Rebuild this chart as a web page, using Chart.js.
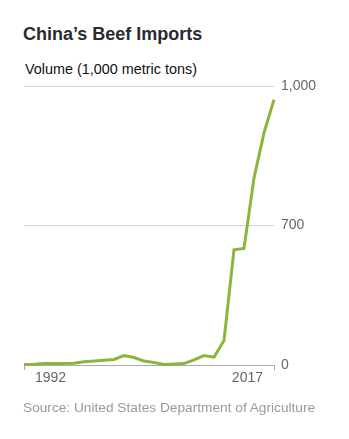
<!DOCTYPE html>
<html>
<head>
<meta charset="utf-8">
<script src="https://cdn.jsdelivr.net/npm/chart.js@4"></script>
<style>
  body { margin: 0; width: 349px; height: 439px; background: #fff; position: relative; overflow: hidden; font-family: "Liberation Sans", Arial, sans-serif; }
  #beef-chart { position: absolute; left: 0; top: 0; }
  .title { position: absolute; left: 23px; top: 25px; font-size: 18px; line-height: 18px; font-weight: bold; color: #2a2a33; }
  .subtitle { position: absolute; left: 25px; top: 62px; font-size: 14.4px; line-height: 14px; color: #111; }
  .source { position: absolute; left: 23px; top: 401px; font-size: 13.7px; line-height: 14px; color: #9a9a9a; }
</style>
</head>
<body>
<div class="title">China’s Beef Imports</div>
<div class="subtitle">Volume (1,000 metric tons)</div>
<canvas id="beef-chart" width="349" height="439"></canvas>
<div class="source">Source: United States Department of Agriculture</div>
<script>
// years on the x axis
const years = [1992, 1993, 1994, 1995, 1996, 1997, 1998, 1999, 2000, 2001, 2002, 2003, 2004,
  2005, 2006, 2007, 2008, 2009, 2010, 2011, 2012, 2013, 2014, 2015, 2016, 2017];
// imports, thousand metric tons
const imports = [2, 3, 5, 5, 5, 6, 12, 14, 17, 20, 34, 27, 14,
  9, 2, 4, 5, 18, 34, 28, 88, 413, 418, 670, 832, 951];

// axis ticks
const xTicks = [1992, 2017];
const xTickLabels = ['1992', '2017'];
const yTicks = [0, 500, 1000];
const yTickLabels = ['0', '700', '1,000'];

const tickFont = { family: '"Liberation Sans", Arial, sans-serif', size: 14 };

// x labels sit just inside the end ticks
const xLabelPlugin = {
  id: 'xLabels',
  afterDraw(chart) {
    const ctx = chart.ctx;
    const xScale = chart.scales.x;
    ctx.save();
    ctx.font = '14px "Liberation Sans", Arial, sans-serif';
    ctx.fillStyle = '#666';
    ctx.textBaseline = 'alphabetic';
    xTicks.forEach((year, i) => {
      const px = xScale.getPixelForValue(year);
      if (i === 0) {
        ctx.textAlign = 'left';
        ctx.fillText(xTickLabels[i], px + 11, 382);
      } else {
        ctx.textAlign = 'right';
        ctx.fillText(xTickLabels[i], px - 11, 382);
      }
    });
    ctx.restore();
  }
};

let lineChart = new Chart(document.getElementById('beef-chart'), {
  type: 'line',
  data: {
    labels: years,
    datasets: [{
      label: 'Beef imports',
      data: years.map((year, i) => ({ x: year, y: imports[i] })),
      borderColor: '#8cb53c',
      borderWidth: 3,
      pointRadius: 0,
      tension: 0,
      fill: false,
      clip: false
    }]
  },
  options: {
    responsive: false,
    animation: false,
    layout: { padding: { left: 24, top: 86, right: 15, bottom: 44 } },
    plugins: { legend: { display: false }, tooltip: { enabled: false } },
    scales: {
      x: {
        type: 'linear',
        min: 1992,
        max: 2017,
        afterBuildTicks: (scale) => { scale.ticks = xTicks.map(v => ({ value: v })); },
        afterFit: (scale) => { scale.height = 30; },
        ticks: { display: false },
        grid: { display: true, drawOnChartArea: false, drawTicks: true, tickLength: 5, color: '#aaa' },
        border: { display: true, color: '#aaa' }
      },
      y: {
        position: 'right',
        min: 0,
        max: 1000,
        afterBuildTicks: (scale) => { scale.ticks = yTicks.map(v => ({ value: v })); },
        afterFit: (scale) => { scale.width = 60; },
        ticks: {
          font: tickFont,
          color: '#666',
          padding: 7,
          callback: (value) => yTickLabels[yTicks.indexOf(value)]
        },
        grid: {
          drawTicks: false,
          color: (c) => c.tick && c.tick.value === 0 ? 'rgba(0,0,0,0)' : '#d4d4d4'
        },
        border: { display: false }
      }
    }
  },
  plugins: [xLabelPlugin]
});
</script>
</body>
</html>
